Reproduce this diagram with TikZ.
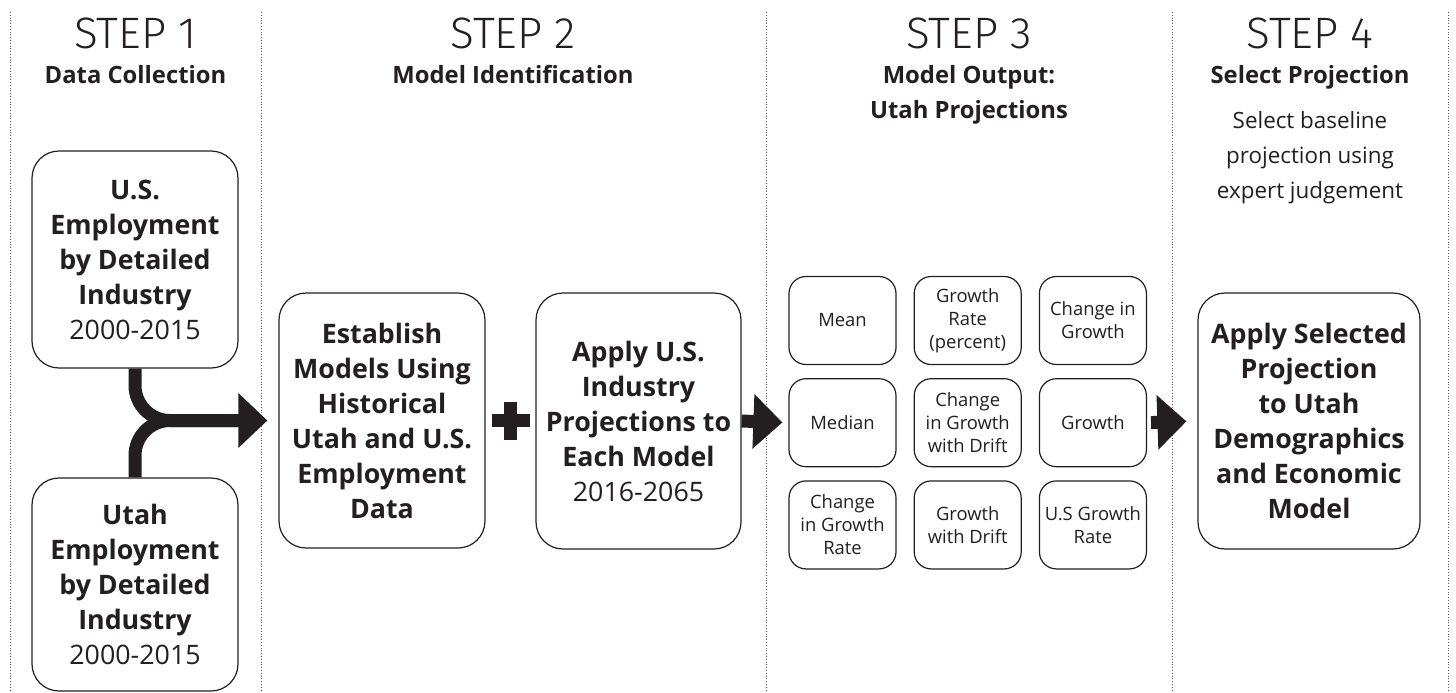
\documentclass[tikz,border=0pt]{standalone}
\usepackage{fontspec}
\setmainfont{Open Sans}
\newfontfamily\steplight{Fira Sans Light}
\usetikzlibrary{positioning,arrows.meta,calc}
\definecolor{utahInk}{HTML}{231F20}
\definecolor{utahRule}{HTML}{5E5E5E}

\begin{document}
\begin{tikzpicture}[
    x=0.5pt, y=-0.5pt,
    divider/.style={
        utahRule,
        line width=0.5pt,
        dash pattern=on 0.5pt off 0.9pt,
    },
    steptitle/.style={
        anchor=base,
        inner sep=0pt,
        text=utahInk,
        font=\steplight\fontsize{22}{28}\selectfont,
    },
    stepname/.style={
        anchor=base,
        inner sep=0pt,
        align=center,
        text=utahInk,
        font=\bfseries\fontsize{11.9}{17.5}\selectfont,
    },
    stepnote/.style={stepname, font=\fontsize{11.2}{17.5}\selectfont},
    bigbox/.style={
        rectangle,
        rounded corners=13.5pt,
        draw=utahInk,
        line width=0.6pt,
        inner sep=0pt,
        align=center,
        text=utahInk,
        font=\bfseries\fontsize{13.4}{17.5}\selectfont,
    },
    modelbox/.style={
        rectangle,
        rounded corners=8.5pt,
        draw=utahInk,
        line width=0.6pt,
        minimum width=53.5pt,
        minimum height=44pt,
        inner sep=0pt,
        align=center,
        text=utahInk,
        font=\fontsize{9.2}{11.5}\selectfont,
    },
    blockarrow/.style={
        -{Triangle[length=14.5pt,width=26.5pt]},
        utahInk,
        line width=6.5pt,
    },
]
    \useasboundingbox (0,0) rectangle (1456,692);

    % Column separators
    \foreach \x in {10,261,766,1172,1448}
        \draw[divider] (\x,12) -- (\x,692);

    % === Step 1 ===
    \node[steptitle] (step1) at (135.5,48) {STEP 1};
    \node[stepname] (name1) at (135.5,83) {Data Collection};
    \node[bigbox, minimum width=103pt, minimum height=108.5pt] (usemp) at (135,259.5)
        {U.S.\\Employment\\by Detailed\\Industry\\{\mdseries 2000-2015}};
    \node[bigbox, minimum width=103pt, minimum height=106.5pt] (utahemp) at (135,584.5)
        {Utah\\Employment\\by Detailed\\Industry\\{\mdseries 2000-2015}};

    % === Step 2 ===
    \node[steptitle] (step2) at (513,48) {STEP 2};
    \node[stepname] (name2) at (513,83) {Model Identification};
    \node[bigbox, minimum width=103pt, minimum height=127.5pt] (establish) at (382,420.5)
        {Establish\\Models Using\\Historical\\Utah and U.S.\\Employment\\Data};
    \node[bigbox, minimum width=102.5pt, minimum height=128pt] (applyus) at (638.5,421)
        {Apply U.S.\\Industry\\Projections to\\Each Model\\{\mdseries 2016-2065}};

    % === Step 3 ===
    \node[steptitle] (step3) at (969,48) {STEP 3};
    % base of a multi-line node sits on its last line
    \node[stepname] (name3) at (969,118) {Model Output:\\Utah Projections};

    \node[modelbox] (mean) at (842.5,320.5) {Mean};
    \node[modelbox, right=8.5pt of mean] (growthrate) {Growth\\Rate\\(percent)};
    \node[modelbox, right=8.5pt of growthrate] (changegrowth) {Change in\\Growth};
    \node[modelbox, below=6.5pt of mean] (median) {Median};
    \node[modelbox, right=8.5pt of median] (changedrift) {Change\\in Growth\\with Drift};
    \node[modelbox, right=8.5pt of changedrift] (growth) {Growth};
    \node[modelbox, below=6.5pt of median] (changerate) {Change\\in Growth\\Rate};
    \node[modelbox, right=8.5pt of changerate] (growthdrift) {Growth\\with Drift};
    \node[modelbox, right=8.5pt of growthdrift] (usrate) {U.S Growth\\Rate};

    % === Step 4 ===
    \node[steptitle] (step4) at (1310,48) {STEP 4};
    \node[stepname] (name4) at (1310,83) {Select Projection};
    \node[stepnote] (note4) at (1310,198) {Select baseline\\projection using\\expert judgement};
    \node[bigbox, minimum width=111pt, minimum height=128pt] (applysel) at (1309,421)
        {Apply Selected\\Projection\\to Utah\\Demographics\\and Economic\\Model};

    % Merging arrow out of the two data boxes
    \coordinate (merge) at ($(establish.west)+(-5.5pt,0)$);
    \draw[blockarrow, rounded corners=17.5pt] (usemp.south) |- (merge);
    \draw[utahInk, line width=6.5pt, rounded corners=17.5pt, shorten >=14.5pt] (utahemp.north) |- (merge);

    % Plus between the two model boxes
    \coordinate (plus) at ($(establish.east)!0.5!(applyus.west)$);
    \fill[utahInk] ($(plus)+(-19,-6.5)$) rectangle ($(plus)+(19,6.5)$);
    \fill[utahInk] ($(plus)+(-6.5,-19)$) rectangle ($(plus)+(6.5,19)$);

    % Flow arrows
    \draw[blockarrow, shorten >=3pt] (applyus.east) -- (median.west);
    \draw[blockarrow, shorten <=2pt, shorten >=5.5pt] (growth.east) -- (applysel.west);

\end{tikzpicture}
\end{document}
